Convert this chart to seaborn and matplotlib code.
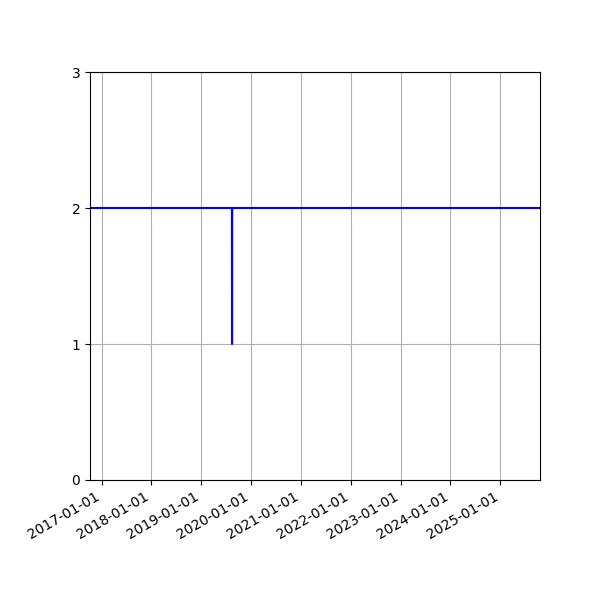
import matplotlib
matplotlib.use("Agg")
import matplotlib.pyplot as plt
import matplotlib.dates as mdates
import pandas as pd
import seaborn as sns

dates = ["2016-10-08", "2019-08-14", "2019-08-15", "2019-08-16", "2025-10-18"]
values = [2, 2, 1, 2, 2]
y_ticks = [0, 1, 2, 3]

df = pd.DataFrame({"date": pd.to_datetime(dates), "value": values})

fig, ax = plt.subplots(figsize=(6, 6), dpi=100)
sns.lineplot(data=df, x="date", y="value", color="blue", linewidth=1.5, ax=ax)
ax.set_xlim(df["date"].min(), df["date"].max())
ax.set_ylim(0, 3)
ax.set_yticks(y_ticks)
ax.xaxis.set_major_locator(mdates.YearLocator())
ax.xaxis.set_major_formatter(mdates.DateFormatter("%Y-%m-%d"))
ax.grid(True)
ax.set_xlabel("")
ax.set_ylabel("")
fig.autofmt_xdate()
fig.subplots_adjust(left=0.15, right=0.9, top=0.88, bottom=0.2)
fig.savefig("out.png", dpi=100)
